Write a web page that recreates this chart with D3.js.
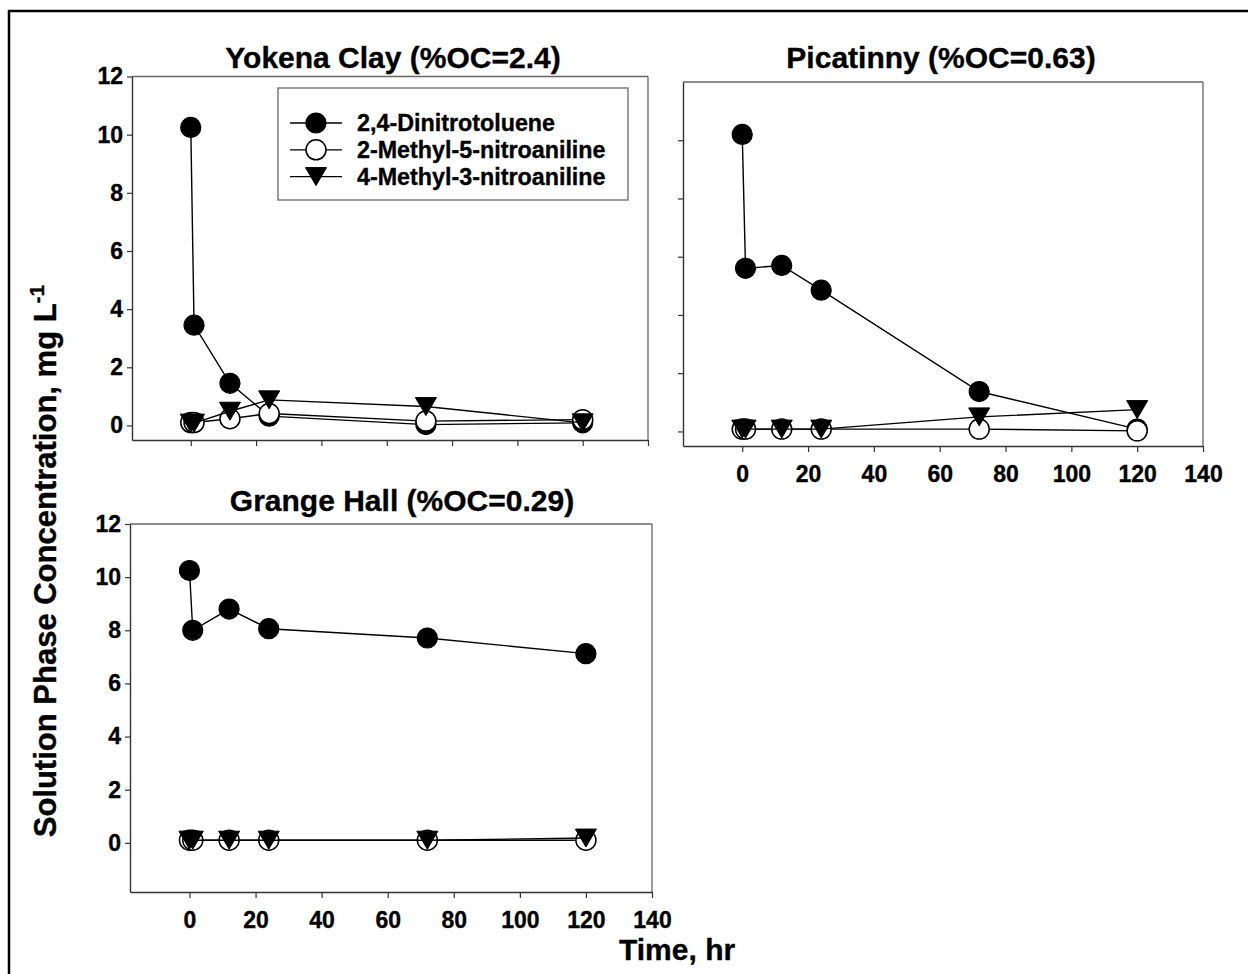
<!DOCTYPE html>
<html>
<head>
<meta charset="utf-8">
<script src="https://cdn.jsdelivr.net/npm/d3@7"></script>
<style>
  body { margin: 0; background: #fff; }
  svg text { font-family: "Liberation Sans", Arial, Helvetica, sans-serif; font-weight: bold; fill: #000;
             stroke: #000; stroke-width: 0.35px; }
</style>
</head>
<body>
<svg id="chart" width="1248" height="974"></svg>
<script>
// Sampling times (hr)
const times = [0, 1, 12, 24, 72, 120];
const seriesNames = ["2,4-Dinitrotoluene", "2-Methyl-5-nitroaniline", "4-Methyl-3-nitroaniline"];
const xTickValues = [0, 20, 40, 60, 80, 100, 120, 140];
const yTickValues = [0, 2, 4, 6, 8, 10, 12];

// Yokena Clay (%OC=2.4)
const yokenaDNT  = [10.25, 3.45, 1.45, 0.32, 0.03, 0.09];
const yokenaM5NA = [0.1, 0.1, 0.23, 0.41, 0.15, 0.2];
const yokenaM3NA = [0.08, 0.08, 0.49, 0.88, 0.65, 0.09];

// Picatinny (%OC=0.63)
const picDNT  = [10.2, 5.6, 5.7, 4.85, 1.37, 0.08];
const picM5NA = [0.08, 0.08, 0.08, 0.08, 0.08, 0.02];
const picM3NA = [0.08, 0.08, 0.08, 0.08, 0.5, 0.75];

// Grange Hall (%OC=0.29)
const grangeDNT  = [10.25, 8.0, 8.8, 8.06, 7.71, 7.12];
const grangeM5NA = [0.1, 0.1, 0.1, 0.1, 0.1, 0.1];
const grangeM3NA = [0.1, 0.1, 0.1, 0.1, 0.1, 0.18];

const svg = d3.select("#chart");

// outer frame
svg.append("rect")
  .attr("x", 9).attr("y", 11).attr("width", 1260).attr("height", 990)
  .attr("fill", "none").attr("stroke", "#000").attr("stroke-width", 2.5);

const panels = [
  { title: "Yokena Clay (%OC=2.4)", series: [yokenaDNT, yokenaM5NA, yokenaM3NA],
    left: 132, right: 648, top: 76.5, bottom: 440, yMin: -0.5, titleDx: 3, titleY: 68,
    xLabels: false, yLabels: true, yTicks: yTickValues, legend: true },
  { title: "Picatinny (%OC=0.63)", series: [picDNT, picM5NA, picM3NA],
    left: 683, right: 1203, top: 82, bottom: 446, yMin: -0.5, titleDx: -2, titleY: 68,
    xLabels: true, yLabels: false, yTicks: yTickValues.slice(0, 6), legend: false },
  { title: "Grange Hall (%OC=0.29)", series: [grangeDNT, grangeM5NA, grangeM3NA],
    left: 130, right: 652, top: 524, bottom: 892, yMin: -1.85, titleDx: 11, titleY: 511,
    xLabels: true, yLabels: true, yTicks: yTickValues, legend: false }
];

const AXIS_COLOR = "#333";
const FRAME_COLOR = "#666";

function trianglePath(w, h) {
  // downward-pointing triangle centred on its bounding box
  const p = d3.path();
  p.moveTo(-w / 2, -h / 2);
  p.lineTo(w / 2, -h / 2);
  p.lineTo(0, h / 2);
  p.closePath();
  return p.toString();
}
const TRI = trianglePath(21, 18);

function drawMarker(g, kind, cx, cy) {
  if (kind === 0) {
    g.append("circle").attr("cx", cx).attr("cy", cy).attr("r", 10)
      .attr("fill", "#000").attr("stroke", "#000").attr("stroke-width", 1.2);
  } else if (kind === 1) {
    g.append("circle").attr("cx", cx).attr("cy", cy).attr("r", 10)
      .attr("fill", "#fff").attr("stroke", "#000").attr("stroke-width", 1.5);
  } else {
    g.append("path").attr("d", TRI).attr("transform", `translate(${cx},${cy})`)
      .attr("fill", "#000").attr("stroke", "#000").attr("stroke-width", 1);
  }
}

panels.forEach(p => {
  const x = d3.scaleLinear().domain([-18, 140]).range([p.left, p.right]);
  const y = d3.scaleLinear().domain([p.yMin, 12]).range([p.bottom, p.top]);
  const g = svg.append("g");

  // top and right frame
  g.append("line").attr("x1", p.left).attr("x2", p.right).attr("y1", p.top).attr("y2", p.top)
    .attr("stroke", FRAME_COLOR).attr("stroke-width", 1.3);
  g.append("line").attr("x1", p.right).attr("x2", p.right).attr("y1", p.top).attr("y2", p.bottom)
    .attr("stroke", FRAME_COLOR).attr("stroke-width", 1.3);

  // y axis
  const yAxis = d3.axisLeft(y).tickValues(p.yTicks).tickSize(5).tickPadding(4).tickSizeOuter(0)
    .tickFormat(p.yLabels ? d3.format("d") : () => "");
  const ya = g.append("g").attr("transform", `translate(${p.left},0)`).call(yAxis);
  ya.select(".domain").attr("stroke", AXIS_COLOR).attr("stroke-width", 1.4);
  ya.selectAll(".tick line").attr("stroke", AXIS_COLOR).attr("stroke-width", 1.2);
  ya.selectAll("text").attr("font-size", 23).attr("font-family", null).attr("fill", "#000");

  // x axis
  const xAxis = d3.axisBottom(x).tickValues(xTickValues).tickSize(6).tickPadding(14).tickSizeOuter(0)
    .tickFormat(p.xLabels ? d3.format("d") : () => "");
  const xa = g.append("g").attr("transform", `translate(0,${p.bottom})`).call(xAxis);
  xa.select(".domain").attr("stroke", AXIS_COLOR).attr("stroke-width", 1.4);
  xa.selectAll(".tick line").attr("stroke", AXIS_COLOR).attr("stroke-width", 1.2);
  xa.selectAll("text").attr("font-size", 23).attr("font-family", null).attr("fill", "#000");

  // panel title
  g.append("text").attr("x", (p.left + p.right) / 2 + p.titleDx).attr("y", p.titleY)
    .attr("text-anchor", "middle").attr("font-size", 30).text(p.title);

  // series: line then markers, in legend order
  const line = d3.line().x((d, i) => x(times[i])).y(d => y(d));
  p.series.forEach((vals, k) => {
    g.append("path").datum(vals).attr("d", line)
      .attr("fill", "none").attr("stroke", "#000").attr("stroke-width", 1.4);
    vals.forEach((v, i) => drawMarker(g, k, x(times[i]), y(v)));
  });

  if (p.legend) {
    const lg = g.append("g");
    lg.append("rect").attr("x", 278).attr("y", 88).attr("width", 350).attr("height", 112)
      .attr("fill", "#fff").attr("stroke", FRAME_COLOR).attr("stroke-width", 1.3);
    seriesNames.forEach((name, k) => {
      const cy = 123 + k * 26.8;
      lg.append("line").attr("x1", 290).attr("x2", 342).attr("y1", cy).attr("y2", cy)
        .attr("stroke", "#000").attr("stroke-width", 1.3);
      drawMarker(lg, k, 316, cy);
      lg.append("text").attr("x", 357).attr("y", cy).attr("dy", "0.36em")
        .attr("font-size", 23.3).text(name);
    });
  }
});

// axis titles
const yTitle = svg.append("text")
  .attr("transform", "translate(56,561) rotate(-90)")
  .attr("text-anchor", "middle").attr("font-size", 31);
yTitle.append("tspan").text("Solution Phase Concentration, mg L");
yTitle.append("tspan").attr("dy", -12).attr("font-size", 21).text("-1");

svg.append("text").attr("x", 619).attr("y", 960).attr("font-size", 30).text("Time, hr");
</script>
</body>
</html>
